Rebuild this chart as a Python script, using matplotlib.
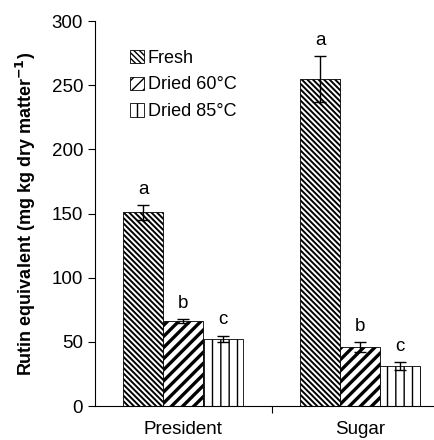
import numpy as np
import matplotlib.pyplot as plt

plt.rcParams['font.family'] = ['Liberation Sans', 'DejaVu Sans']

# data
cultivars = ['President', 'Sugar']
treatments = ['Fresh', 'Dried 60°C', 'Dried 85°C']
fresh = [151, 255]
dried60 = [66.5, 46]
dried85 = [52.5, 31.5]
fresh_err = [6, 18]
dried60_err = [1.5, 4]
dried85_err = [2.5, 3]
letters = [['a', 'b', 'c'], ['a', 'b', 'c']]

values = [fresh, dried60, dried85]
errors = [fresh_err, dried60_err, dried85_err]
BS = chr(92)
hatches = [BS * 6, '///', '||']
hatch_lw = [1.4, 2.4, 1.0]

fig = plt.figure(figsize=(4.35, 4.4), dpi=100)
ax = fig.add_axes([0.218, 0.077, 0.814, 0.875])

x = np.arange(len(cultivars))
w = 0.226
for i, (vals, errs) in enumerate(zip(values, errors)):
    pos = x + (i - 1) * w
    with plt.rc_context({'hatch.linewidth': hatch_lw[i], 'hatch.color': 'black'}):
        ax.bar(pos, vals, w, facecolor='white', edgecolor='black', hatch=hatches[i],
               linewidth=0.6, label=treatments[i], zorder=2)
    ax.errorbar(pos, vals, yerr=errs, fmt='none', ecolor='black', elinewidth=1.0,
                capsize=4, capthick=1.0, zorder=3)
    for j in range(len(cultivars)):
        ax.text(pos[j], vals[j] + errs[j] + 5.5, letters[j][i], ha='center', va='bottom',
                fontsize=13.5)

ax.set_xlim(-0.5, 1.5)
ax.set_ylim(0, 300)
ax.set_yticks(np.arange(0, 301, 50))
ax.tick_params(axis='y', labelsize=13.5, length=5, width=0.8, direction='out')
ax.set_xticks(x)
ax.set_xticklabels(cultivars, fontsize=13.5)
ax.tick_params(axis='x', length=0, pad=11)
ax.set_xticks([0.5], minor=True)
ax.tick_params(axis='x', which='minor', length=5, width=0.8, direction='out')

ax.spines['top'].set_visible(False)
ax.spines['right'].set_visible(False)
ax.spines['left'].set_linewidth(0.8)
ax.spines['bottom'].set_linewidth(0.8)

ax.set_ylabel('Rutin equivalent (mg kg dry matter$^{\\mathbf{-1}}$)', fontsize=13,
              fontweight='bold', labelpad=10)

leg = ax.legend(loc='upper left', bbox_to_anchor=(0.08, 0.945), frameon=False,
                fontsize=13, handlelength=0.75, handleheight=0.75,
                handletextpad=0.2, labelspacing=0.55, borderaxespad=0)

fig.savefig('out.png', dpi=100, facecolor='white')
